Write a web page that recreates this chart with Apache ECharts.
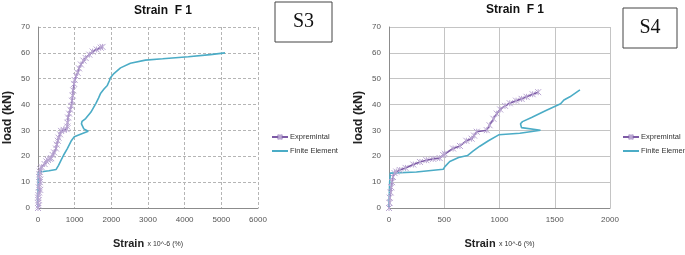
<!DOCTYPE html>
<html>
<head>
<meta charset="utf-8">
<script src="https://cdn.jsdelivr.net/npm/echarts@6/dist/echarts.min.js"></script>
<style>
html, body { margin: 0; padding: 0; background: #fff; }
#chart { width: 685px; height: 255px; }
</style>
</head>
<body>
<div id="chart"></div>
<script>
// S3 : [strain x10^-6, load kN]
var s3Exp = [[0,0],[20,1],[5,2],[15,3],[5,4],[10,5],[30,6],[60,7],[20,8],[40,9],[50,10],[60,11],[30,12],[40,13],[50,14],[60,15],
	[100,15.8],[180,17],[230,18],[270,18.6],[330,19],[360,19.3],[400,20.5],[440,21.5],[490,23],[510,24.5],[540,26],[560,27.2],
	[600,28.5],[630,29.8],[700,30.2],[780,30.5],[800,31.5],[805,33],[820,35],[850,36.5],[880,38],[910,39.5],[930,41.5],[945,43.5],
	[960,45.5],[985,48],[1000,49.5],[1040,51],[1080,52.3],[1120,54],[1170,55.5],[1240,57],[1300,58],[1400,59.3],[1490,60.5],
	[1600,61.3],[1710,62],[1760,62.3]];
var s3Fe = [[0,0],[0,5],[5,10],[10,13.6],[90,14],[300,14.4],[495,14.9],[560,16.5],[630,18.5],[700,20.5],[800,23],[900,25.8],
	[990,27.6],[1210,28.8],[1370,29.7],[1250,30.6],[1210,31.3],[1185,32.5],[1200,33.5],[1300,34.6],[1440,37],[1580,40.5],
	[1650,42.5],[1710,44.4],[1800,46],[1890,47.4],[1950,49.3],[1970,50.3],[2070,52],[2250,54.2],[2520,56],[2930,57.2],
	[3400,57.7],[4100,58.5],[4700,59.3],[5100,60]];
// S4
var s4Exp = [[0,0],[5,2],[6,4],[15,6],[21,8],[28,10],[36,12],[50,13.5],[66,14.1],[97,14.7],[150,15.5],[220,16.8],[280,17.8],
	[338,18.5],[400,19],[459,19.3],[490,20.5],[506,21],[580,23],[642,24],[700,26],[748,26.8],[770,28],[794,29.5],[885,30.1],
	[910,32],[945,34.5],[975,36.5],[1006,38.1],[1050,39.5],[1093,40.5],[1150,41.5],[1200,42.2],[1245,43],[1300,44],[1350,44.8]];
var s4Fe = [[0,0],[3,5],[6,10],[12,13.5],[248,13.9],[491,15],[506,16],[550,18],[630,19.5],[710,20.3],[760,22],[822,23.9],
	[900,26],[993,28.3],[1184,28.9],[1371,30.1],[1199,31.1],[1190,32.6],[1208,33.4],[1290,35],[1411,37.5],[1553,40.3],
	[1583,41.8],[1637,43],[1728,45.7]];

var titleText = 'Strain  F 1';
var loadMax = 70, loadStep = 10;
var s3StrainMax = 6000, s3StrainStep = 1000;
var s4StrainMax = 2000, s4StrainStep = 500;

var purple = '#7d5ba6', purpleMark = '#b9a6d2', cyan = '#4bacc6';
var fontName = 'Liberation Sans';
var starPath = 'path://M0,0L10,10M10,0L0,10M5,0L5,10';

function xAxisOf(gi, max, step, dashed) {
	return {
		type: 'value', gridIndex: gi, min: 0, max: max, interval: step,
		name: '{a|Strain} {b|x 10^-6 (%)}', nameLocation: 'middle', nameGap: 30,
		nameTextStyle: { rich: {
			a: { fontSize: 11, fontWeight: 'bold', color: '#222', fontFamily: fontName },
			b: { fontSize: 7, color: '#333', fontFamily: fontName }
		} },
		axisLine: { lineStyle: { color: '#8c8c8c' } },
		axisTick: { show: false },
		axisLabel: { fontSize: 8, color: '#555', fontFamily: fontName, margin: 8,
			formatter: function (v) { return String(v); } },
		splitLine: { lineStyle: { color: dashed ? '#b5b5b5' : '#c4c4c4', type: dashed ? [3, 2] : 'solid', width: 1 } }
	};
}
function yAxisOf(gi, dashed) {
	return {
		type: 'value', gridIndex: gi, min: 0, max: loadMax, interval: loadStep,
		name: 'load (kN)', nameLocation: 'middle', nameGap: 24,
		nameTextStyle: { fontSize: 12.5, fontWeight: 'bold', color: '#222', fontFamily: fontName },
		axisLine: { show: true, lineStyle: { color: '#8c8c8c' } },
		axisTick: { show: false },
		axisLabel: { fontSize: 8, color: '#555', fontFamily: fontName, margin: 8 },
		splitLine: { lineStyle: { color: dashed ? '#b5b5b5' : '#c4c4c4', type: dashed ? [3, 2] : 'solid', width: 1 } }
	};
}
function expSeries(gi, data) {
	return {
		name: 'Expremintal', type: 'line', xAxisIndex: gi, yAxisIndex: gi, data: data,
		symbol: starPath, symbolSize: 6, showSymbol: true,
		lineStyle: { color: purple, width: 1.6 },
		itemStyle: { color: 'transparent', borderColor: purpleMark, borderWidth: 1 },
		animation: false
	};
}
function feSeries(gi, data) {
	return {
		name: 'Finite Element', type: 'line', xAxisIndex: gi, yAxisIndex: gi, data: data,
		showSymbol: false, symbol: 'none',
		lineStyle: { color: cyan, width: 1.6 },
		itemStyle: { color: cyan },
		animation: false
	};
}
function legendOf(left) {
	return {
		left: left, top: 128, orient: 'vertical', itemWidth: 16, itemHeight: 6, itemGap: 6,
		data: ['Expremintal', { name: 'Finite Element', itemStyle: { opacity: 0 } }],
		textStyle: { fontSize: 7.5, color: '#333', fontFamily: fontName, padding: [0, 0, 0, -3] }
	};
}
function labelBox(x, y, w, h, txt) {
	return {
		type: 'group', x: x, y: y,
		children: [
			{ type: 'rect', shape: { x: 0, y: 0, width: w, height: h }, style: { fill: '#fff', stroke: '#444', lineWidth: 1 } },
			{ type: 'text', x: w / 2, y: h / 2, style: { text: txt, align: 'center', verticalAlign: 'middle',
				font: '20px "Liberation Serif"', fill: '#111' } }
		]
	};
}

var chart = echarts.init(document.getElementById('chart'));
var option = {
	backgroundColor: '#fff',
	animation: false,
	grid: [
		{ left: 37, top: 27, width: 221, height: 190 },
		{ left: 389, top: 27, width: 221, height: 190 }
	],
	xAxis: [xAxisOf(0, s3StrainMax, s3StrainStep, true), xAxisOf(1, s4StrainMax, s4StrainStep, false)],
	yAxis: [yAxisOf(0, true), yAxisOf(1, false)],
	legend: [legendOf(266), legendOf(617)],
	series: [expSeries(0, s3Exp), feSeries(0, s3Fe), expSeries(1, s4Exp), feSeries(1, s4Fe)],
	graphic: [
		{ type: 'text', x: 163, y: 11, style: { text: titleText, align: 'center', verticalAlign: 'middle',
			font: 'bold 12px "Liberation Sans"', fill: '#111' } },
		{ type: 'text', x: 515, y: 10, style: { text: titleText, align: 'center', verticalAlign: 'middle',
			font: 'bold 12px "Liberation Sans"', fill: '#111' } },
		labelBox(275, 2, 57, 40, 'S3'),
		labelBox(623, 8, 54, 40, 'S4')
	]
};
chart.setOption(option);
</script>
</body>
</html>
